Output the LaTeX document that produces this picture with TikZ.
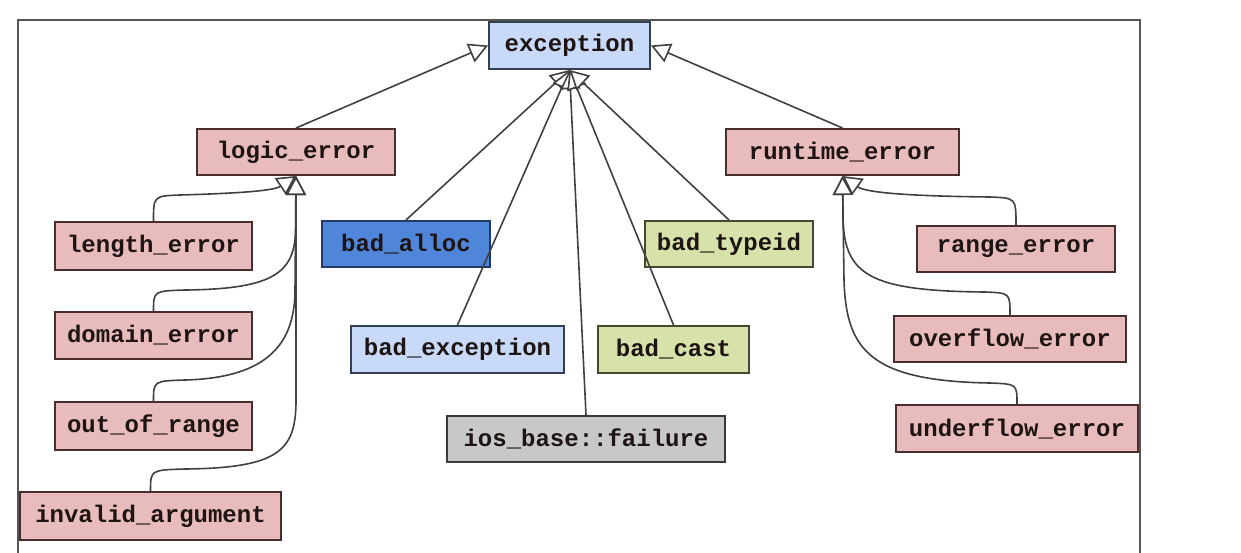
\documentclass[tikz,border=0pt]{standalone}
\usepackage{fontspec}
\newfontfamily\codefont{Liberation Mono}
\usetikzlibrary{arrows.meta}
\definecolor{pinkf}{HTML}{E8BCBC}
\definecolor{pinkd}{HTML}{4A2E2E}
\definecolor{lbluef}{HTML}{C9DAF8}
\definecolor{lblued}{HTML}{34404E}
\definecolor{bluef}{HTML}{4F86DA}
\definecolor{blued}{HTML}{1E3A66}
\definecolor{greenf}{HTML}{D6E2AA}
\definecolor{greend}{HTML}{434A30}
\definecolor{grayf}{HTML}{C8C8C8}
\definecolor{grayd}{HTML}{3A3A3A}
\definecolor{linec}{HTML}{404040}
\definecolor{framec}{HTML}{555555}
\definecolor{txtc}{HTML}{1E1414}
\begin{document}
\begin{tikzpicture}[x=0.5pt,y=-0.5pt,
  cls/.style={rectangle, line width=1pt, inner sep=0pt,
    font=\codefont\bfseries\fontsize{12}{14}\selectfont, text=txtc},
  pinkbox/.style={cls, fill=pinkf, draw=pinkd},
  lbluebox/.style={cls, fill=lbluef, draw=lblued},
  bluebox/.style={cls, fill=bluef, draw=blued},
  greenbox/.style={cls, fill=greenf, draw=greend},
  graybox/.style={cls, fill=grayf, draw=grayd},
  inh/.style={draw=linec, line width=0.8pt,
    -{Triangle[fill=white, length=9.5pt, width=10pt]}},
  framestyle/.style={draw=framec, line width=1pt}
]
\useasboundingbox (0,0) rectangle (1241,552);
\draw[framestyle] (18,560) -- (18,20) -- (1140,20) -- (1140,560);

% nodes
\node[lbluebox, minimum width=80.5pt, minimum height=23.5pt] (exception) at (569.5,45.5) {exception};
\node[pinkbox, minimum width=99pt, minimum height=23pt] (logic) at (296,152) {logic\_error};
\node[pinkbox, minimum width=116.5pt, minimum height=23pt] (runtime) at (842.5,152) {runtime\_error};
\node[pinkbox, minimum width=98.5pt, minimum height=24pt] (length) at (153.5,246) {length\_error};
\node[pinkbox, minimum width=98.5pt, minimum height=23.5pt] (domain) at (153.5,335.5) {domain\_error};
\node[pinkbox, minimum width=98.5pt, minimum height=24pt] (outofrange) at (153.5,426) {out\_of\_range};
\node[pinkbox, minimum width=130.5pt, minimum height=24pt] (invalid) at (150.5,516) {invalid\_argument};
\node[bluebox, minimum width=84pt, minimum height=23pt] (badalloc) at (406,244) {bad\_alloc};
\node[lbluebox, minimum width=106.5pt, minimum height=23.5pt] (badexception) at (457.5,349.5) {bad\_exception};
\node[graybox, minimum width=139pt, minimum height=23pt] (iosfailure) at (586,439) {ios\_base::failure};
\node[greenbox, minimum width=75.5pt, minimum height=23.5pt] (badcast) at (673.5,349.5) {bad\_cast};
\node[greenbox, minimum width=84pt, minimum height=23pt] (badtypeid) at (729,244) {bad\_typeid};
\node[pinkbox, minimum width=99pt, minimum height=23pt] (range) at (1016,249) {range\_error};
\node[pinkbox, minimum width=116pt, minimum height=23pt] (overflow) at (1010,339) {overflow\_error};
\node[pinkbox, minimum width=121pt, minimum height=23.5pt] (underflow) at (1017,428.5) {underflow\_error};

% inheritance to exception
\draw[inh] (logic.north) -- (exception.west);
\draw[inh] (runtime.north) -- (exception.east);
\draw[inh] (badalloc.north) -- (exception.south);
\draw[inh] (badexception.north) -- (exception.south);
\draw[inh] (iosfailure.north) -- (exception.south);
\draw[inh] (badcast.north) -- (exception.south);
\draw[inh] (badtypeid.north) -- (exception.south);

% logic_error children
\draw[inh] (length.north) .. controls (153.5,196) and (153.5,196) .. (180,195)
  .. controls (250,193) and (275,190) .. (logic.south);
\draw[inh] (domain.north) .. controls (153.5,291) and (153.5,291) .. (185,290)
  .. controls (285,289) and (296,268) .. (296,220) -- (logic.south);
\draw[inh] (outofrange.north) .. controls (153.5,381) and (153.5,381) .. (185,380)
  .. controls (260,378) and (295,350) .. (295,290) -- (logic.south);
\draw[inh] (invalid.north) .. controls (150.5,470) and (150.5,470) .. (185,469)
  .. controls (280,468) and (296,450) .. (296,400) -- (logic.south);

% runtime_error children
\draw[inh] (range.north) .. controls (1016,198) and (1016,198) .. (990,197)
  .. controls (900,196) and (865,192) .. (runtime.south);
\draw[inh] (overflow.north) .. controls (1010,293) and (1010,293) .. (985,292)
  .. controls (870,291) and (845,275) .. (843,220) -- (runtime.south);
\draw[inh] (underflow.north) .. controls (1017,384) and (1017,384) .. (990,383)
  .. controls (870,381) and (846,350) .. (844,280) -- (runtime.south);
\end{tikzpicture}
\end{document}
